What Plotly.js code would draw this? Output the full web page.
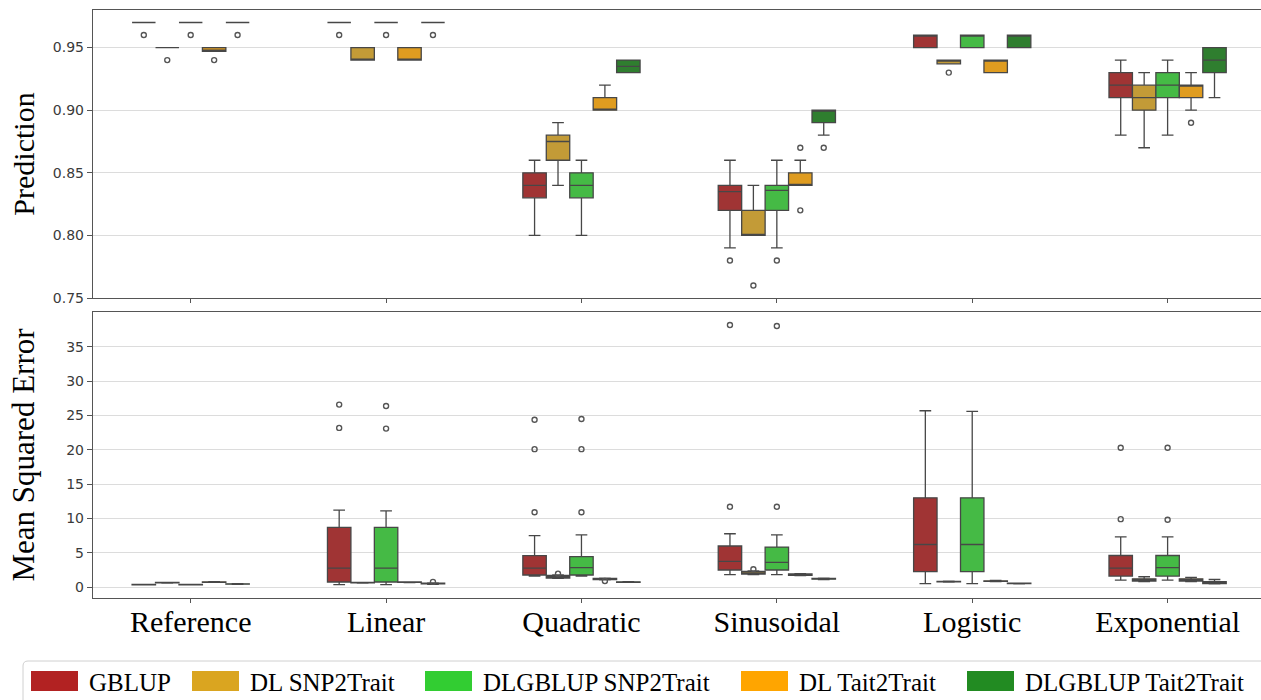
<!DOCTYPE html>
<html><head><meta charset="utf-8">
<script src="https://cdn.plot.ly/plotly-3.0.1.min.js"></script>
<style>html,body{margin:0;padding:0;background:#fff;overflow:hidden}</style>
</head><body><div id="chart" style="width:1261px;height:700px"></div>
<script>
// ---------- data ----------
const categories = ['Reference', 'Linear', 'Quadratic', 'Sinusoidal', 'Logistic', 'Exponential'];
const methods = ['GBLUP', 'DL SNP2Trait', 'DLGBLUP SNP2Trait', 'DL Tait2Trait', 'DLGBLUP Tait2Trait'];
const legendColors = ['#B22222', '#DAA520', '#32CD32', '#FFA500', '#228B22'];
const boxColors = ['#A03434', '#C39B37', '#45BA45', '#DF9C20', '#2F7E2F'];

// Prediction: [method][category]
const predLow = [
  [0.97, 0.97, 0.80, 0.79, 0.95, 0.88],
  [0.95, 0.94, 0.84, 0.80, 0.937, 0.87],
  [0.97, 0.97, 0.80, 0.79, 0.95, 0.88],
  [0.947, 0.94, 0.90, 0.84, 0.93, 0.90],
  [0.97, 0.97, 0.93, 0.88, 0.95, 0.91]
];
const predQ1 = [
  [0.97, 0.97, 0.83, 0.82, 0.95, 0.91],
  [0.95, 0.94, 0.86, 0.80, 0.937, 0.90],
  [0.97, 0.97, 0.83, 0.82, 0.95, 0.91],
  [0.947, 0.94, 0.90, 0.84, 0.93, 0.91],
  [0.97, 0.97, 0.93, 0.89, 0.95, 0.93]
];
const predMed = [
  [0.97, 0.97, 0.84, 0.835, 0.96, 0.92],
  [0.95, 0.94, 0.875, 0.80, 0.94, 0.91],
  [0.97, 0.97, 0.84, 0.836, 0.96, 0.92],
  [0.948, 0.94, 0.90, 0.84, 0.94, 0.92],
  [0.97, 0.97, 0.935, 0.90, 0.96, 0.94]
];
const predQ3 = [
  [0.97, 0.97, 0.85, 0.84, 0.96, 0.93],
  [0.95, 0.95, 0.88, 0.82, 0.94, 0.92],
  [0.97, 0.97, 0.85, 0.84, 0.96, 0.93],
  [0.95, 0.95, 0.91, 0.85, 0.94, 0.92],
  [0.97, 0.97, 0.94, 0.90, 0.96, 0.95]
];
const predHigh = [
  [0.97, 0.97, 0.86, 0.86, 0.96, 0.94],
  [0.95, 0.95, 0.89, 0.84, 0.94, 0.93],
  [0.97, 0.97, 0.86, 0.86, 0.96, 0.94],
  [0.95, 0.95, 0.92, 0.86, 0.94, 0.93],
  [0.97, 0.97, 0.94, 0.90, 0.96, 0.95]
];
const predOutliers = [
  [[0.96], [0.96], [], [0.78], [], []],
  [[0.94], [], [], [0.76], [0.93], []],
  [[0.96], [0.96], [], [0.78], [], []],
  [[0.94], [], [], [0.87, 0.82], [], [0.89]],
  [[0.96], [0.96], [], [0.87], [], []]
];

// Mean Squared Error: [method][category]
const mseLow = [
  [0.30, 0.34, 1.60, 1.80, 0.49, 1.02],
  [0.58, 0.58, 1.25, 1.80, 0.72, 0.80],
  [0.30, 0.34, 1.60, 1.80, 0.49, 1.00],
  [0.68, 0.65, 1.05, 1.65, 0.80, 0.80],
  [0.40, 0.40, 0.68, 1.10, 0.48, 0.45]
];
const mseQ1 = [
  [0.32, 0.73, 1.75, 2.48, 2.24, 1.60],
  [0.60, 0.60, 1.30, 1.90, 0.75, 0.87],
  [0.32, 0.73, 1.75, 2.48, 2.24, 1.60],
  [0.70, 0.67, 1.10, 1.70, 0.83, 0.87],
  [0.42, 0.45, 0.70, 1.15, 0.50, 0.49]
];
const mseMed = [
  [0.35, 2.77, 2.77, 3.74, 6.20, 2.77],
  [0.63, 0.63, 1.50, 2.00, 0.78, 1.00],
  [0.35, 2.77, 2.82, 3.60, 6.20, 2.82],
  [0.73, 0.70, 1.17, 1.80, 0.87, 1.00],
  [0.44, 0.50, 0.73, 1.20, 0.53, 0.60]
];
const mseQ3 = [
  [0.38, 8.70, 4.57, 5.98, 13.0, 4.60],
  [0.66, 0.66, 1.70, 2.28, 0.81, 1.20],
  [0.38, 8.70, 4.42, 5.83, 13.0, 4.60],
  [0.76, 0.73, 1.25, 1.90, 0.91, 1.20],
  [0.47, 0.55, 0.76, 1.25, 0.56, 0.78]
];
const mseHigh = [
  [0.40, 11.2, 7.50, 7.77, 25.7, 7.30],
  [0.68, 0.68, 1.75, 2.35, 0.84, 1.50],
  [0.40, 11.1, 7.60, 7.60, 25.6, 7.30],
  [0.78, 0.75, 1.30, 1.95, 0.95, 1.40],
  [0.49, 0.60, 0.78, 1.30, 0.58, 1.10]
];
const mseOutliers = [
  [[], [23.2, 26.6], [10.9, 20.1, 24.4], [11.7, 38.2], [], [9.9, 20.3]],
  [[], [], [1.95], [2.6], [], []],
  [[], [23.1, 26.4], [10.9, 20.1, 24.5], [11.7, 38.05], [], [9.8, 20.3]],
  [[], [], [0.87], [], [], []],
  [[], [0.75], [], [], [], []]
];

// ---------- layout helpers ----------
const W = 1261, H = 700, ML = 93, MR = 0, MT = 10, MB = 102;
const PW = W - ML - MR, PH = H - MT - MB;
const px = v => (v - ML) / PW;
const py = v => (H - MB - v) / PH;
const BOXW = 0.12;
const pos = (ci, mi) => ci + (mi - (methods.length - 1) / 2) * BOXW;

const traces = [];
function addPanel(low, q1, med, q3, high, outs, xa, ya) {
  methods.forEach((m, mi) => {
    const xs = categories.map((c, ci) => pos(ci, mi));
    traces.push({
      type: 'box', name: m, x: xs,
      lowerfence: low[mi], q1: q1[mi], median: med[mi], q3: q3[mi], upperfence: high[mi],
      width: BOXW, whiskerwidth: 0.5, boxpoints: false,
      fillcolor: boxColors[mi], line: {color: '#474747', width: 1.3},
      xaxis: xa, yaxis: ya, showlegend: false, hoverinfo: 'skip'
    });
    const ox = [], oy = [];
    outs[mi].forEach((arr, ci) => arr.forEach(v => { ox.push(pos(ci, mi)); oy.push(v); }));
    if (ox.length) traces.push({
      type: 'scatter', mode: 'markers', x: ox, y: oy, xaxis: xa, yaxis: ya,
      marker: {symbol: 'circle-open', size: 5, color: '#555555', line: {width: 1.4}},
      showlegend: false, hoverinfo: 'skip'
    });
  });
}
addPanel(predLow, predQ1, predMed, predQ3, predHigh, predOutliers, 'x', 'y');
addPanel(mseLow, mseQ1, mseMed, mseQ3, mseHigh, mseOutliers, 'x2', 'y2');

// ---------- legend (drawn as shapes + text) ----------
const legendLeft = [31, 192, 425, 741, 967];
const swW = 47, swH = 20, legY = 681;
const shapes = [];
const annotations = [];
(function(){
  const x0 = 23, x1 = 1280, y0 = 661, y1 = 706, r = 5;
  const X = px, Y = py;
  const rx = r / PW, ry = r / PH;
  const path = `M ${X(x0)+rx},${Y(y0)} L ${X(x1)-rx},${Y(y0)} Q ${X(x1)},${Y(y0)} ${X(x1)},${Y(y0)-ry} ` +
    `L ${X(x1)},${Y(y1)+ry} Q ${X(x1)},${Y(y1)} ${X(x1)-rx},${Y(y1)} L ${X(x0)+rx},${Y(y1)} ` +
    `Q ${X(x0)},${Y(y1)} ${X(x0)},${Y(y1)+ry} L ${X(x0)},${Y(y0)-ry} Q ${X(x0)},${Y(y0)} ${X(x0)+rx},${Y(y0)} Z`;
  shapes.push({type: 'path', xref: 'paper', yref: 'paper', path, line: {color: '#d0d0d0', width: 1}, fillcolor: 'rgba(255,255,255,0.8)'});
})();
methods.forEach((m, mi) => {
  const l = legendLeft[mi];
  shapes.push({type: 'rect', xref: 'paper', yref: 'paper',
    x0: px(l), x1: px(l + swW), y0: py(legY - swH / 2), y1: py(legY + swH / 2),
    fillcolor: legendColors[mi], line: {width: 0}});
  annotations.push({xref: 'paper', yref: 'paper', x: px(l + swW + 9), y: py(legY + 1),
    xanchor: 'left', yanchor: 'middle', showarrow: false, text: m,
    font: {family: 'Liberation Serif, Times New Roman, serif', size: 25, color: '#000'}});
});

const gridColor = '#dcdcdc';
const axisLine = '#555555';
const tickFont = {family: 'DejaVu Sans, sans-serif', size: 14, color: '#3a3a3a'};
const serif = 'Liberation Serif, Times New Roman, serif';
const tv = categories.map((c, i) => i);

const layout = {
  width: W, height: H, margin: {l: ML, r: MR, t: MT, b: MB},
  paper_bgcolor: '#fff', plot_bgcolor: '#fff',
  boxmode: 'overlay', showlegend: false,
  xaxis: {domain: [0, 1], anchor: 'y', range: [-0.5, 5.478], tickvals: tv, showticklabels: false,
    ticks: 'outside', ticklen: 4, tickcolor: axisLine, showgrid: false, zeroline: false,
    showline: true, mirror: true, linecolor: axisLine, linewidth: 1.2},
  xaxis2: {domain: [0, 1], anchor: 'y2', matches: 'x', range: [-0.5, 5.478], tickvals: tv, ticktext: categories,
    ticks: 'outside', ticklen: 4, tickcolor: axisLine, showgrid: false, zeroline: false,
    showline: true, mirror: true, linecolor: axisLine, linewidth: 1.2, ticklabelstandoff: -7,
    tickfont: {family: serif, size: 30, color: '#000'}},
  yaxis: {domain: [py(298), 1], anchor: 'x', range: [0.75, 0.98], tickvals: [0.75, 0.8, 0.85, 0.9, 0.95],
    tickformat: '.2f', ticks: 'outside', ticklen: 5, tickcolor: axisLine, tickfont: tickFont,
    showgrid: true, gridcolor: gridColor, gridwidth: 1, zeroline: false,
    showline: true, linecolor: axisLine, linewidth: 1.2,
    title: {text: 'Prediction', font: {family: serif, size: 30, color: '#000'}, standoff: 9}},
  yaxis2: {domain: [0, py(312)], anchor: 'x2', range: [-1.6, 40.1], tickvals: [0, 5, 10, 15, 20, 25, 30, 35],
    ticks: 'outside', ticklen: 5, tickcolor: axisLine, tickfont: tickFont,
    showgrid: true, gridcolor: gridColor, gridwidth: 1, zeroline: false,
    showline: true, linecolor: axisLine, linewidth: 1.2,
    title: {text: 'Mean Squared Error', font: {family: serif, size: 31, color: '#000'}, standoff: 22}},
  shapes, annotations
};

Plotly.newPlot('chart', traces, layout, {displayModeBar: false, staticPlot: true});
</script></body></html>
